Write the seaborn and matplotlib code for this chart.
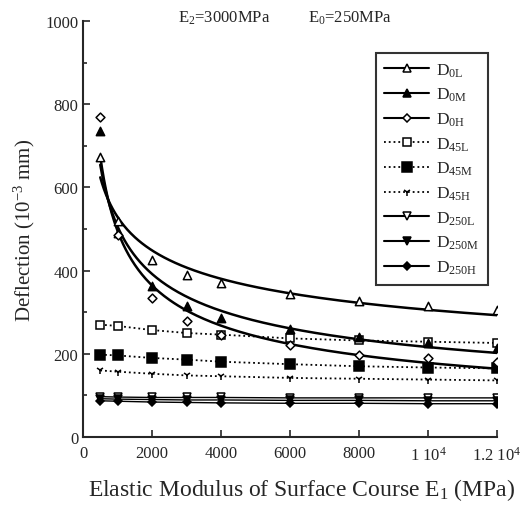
import numpy as np
import pandas as pd
import matplotlib
matplotlib.use("Agg")
import matplotlib.pyplot as plt
import seaborn as sns
from matplotlib.lines import Line2D
from matplotlib.ticker import MultipleLocator, FixedLocator

# ---- data ----
modulus = [500, 1000, 2000, 3000, 4000, 6000, 8000, 10000, 12000]
d0l = [672, 518, 425, 390, 370, 343, 326, 314, 305]
d0m = [735, 490, 362, 315, 287, 259, 240, 226, 215]
d0h = [770, 485, 334, 280, 245, 220, 198, 190, 180]
d45l = [270, 267, 257, 250, 246, 237, 232, 229, 226]
d45m = [198, 196, 190, 186, 181, 175, 170, 167, 165]
d45h = [160, 157, 152, 148, 146, 142, 140, 138, 136]
d250l = [97, 96, 95, 95, 95, 94, 94, 94, 94]
d250m = [92, 91, 90, 89, 89, 88, 88, 87, 87]
d250h = [87, 86, 84, 83, 82, 81, 81, 80, 80]

labels = ["D$_{\\mathrm{0L}}$", "D$_{\\mathrm{0M}}$", "D$_{\\mathrm{0H}}$",
          "D$_{\\mathrm{45L}}$", "D$_{\\mathrm{45M}}$", "D$_{\\mathrm{45H}}$",
          "D$_{\\mathrm{250L}}$", "D$_{\\mathrm{250M}}$", "D$_{\\mathrm{250H}}$"]
xticks = [0, 2000, 4000, 6000, 8000, 10000, 12000]
xtick_labels = ["0", "2000", "4000", "6000", "8000", "1 10$^{4}$", "1.2 10$^{4}$"]
yticks = [0, 200, 400, 600, 800, 1000]

sns.set_style("ticks")
plt.rcParams["font.family"] = ["Liberation Serif", "DejaVu Serif"]
plt.rcParams["mathtext.fontset"] = "custom"
plt.rcParams["mathtext.rm"] = "Liberation Serif"
plt.rcParams["mathtext.it"] = "Liberation Serif:italic"
plt.rcParams["mathtext.bf"] = "Liberation Serif:bold"

fig = plt.figure(figsize=(5.23, 5.10), dpi=100)
ax = fig.add_axes([0.1587, 0.1412, 0.7916, 0.8157])

series = [d0l, d0m, d0h, d45l, d45m, d45h, d250l, d250m, d250h]
markers = ["^", "^", "D", "s", "s", "1", "v", "v", "D"]
faces = ["white", "black", "white", "white", "black", "black", "white", "black", "black"]
msizes = [6, 6, 4.5, 6, 7, 6, 6, 6, 4.5]
styles = ["-", "-", "-", ":", ":", ":", "-", "-", "-"]

x_arr = np.array(modulus, dtype=float)
handles = []
for i, (vals, lab) in enumerate(zip(series, labels)):
    y_arr = np.array(vals, dtype=float)
    if i < 3:
        # power-law trend line fitted to the points (as in the original)
        b, a = np.polyfit(np.log(x_arr), np.log(y_arr), 1)
        xs = np.geomspace(x_arr.min(), x_arr.max(), 200)
        ys = np.exp(a + b * np.log(xs))
        sns.lineplot(x=xs, y=ys, ax=ax, color="black", lw=1.8, sort=False)
        sns.scatterplot(x=x_arr, y=y_arr, ax=ax, marker=markers[i], s=msizes[i] ** 2,
                        facecolor=faces[i], edgecolor="black", linewidth=1.1, zorder=5)
    else:
        lw = 1.3 if styles[i] == ":" else 1.0
        sns.lineplot(x=x_arr, y=y_arr, ax=ax, color="black", lw=lw, linestyle=styles[i],
                     marker=markers[i], markersize=msizes[i], markerfacecolor=faces[i],
                     markeredgecolor="black", markeredgewidth=1.1)
    handles.append(Line2D([], [], color="black", lw=1.5 if styles[i] == "-" else 1.3,
                          linestyle=styles[i], marker=markers[i], markersize=msizes[i],
                          markerfacecolor=faces[i], markeredgecolor="black",
                          markeredgewidth=1.1))

ax.set_xlim(0, 12000)
ax.set_ylim(0, 1000)
ax.xaxis.set_major_locator(FixedLocator(xticks))
ax.set_xticklabels(xtick_labels)
ax.yaxis.set_major_locator(FixedLocator(yticks))
ax.yaxis.set_minor_locator(MultipleLocator(100))
ax.tick_params(axis="both", which="both", direction="in", labelsize=12, width=1.2)
ax.tick_params(axis="both", which="major", length=5)
ax.tick_params(axis="y", which="minor", length=3)
ax.tick_params(axis="x", pad=6)
sns.despine(ax=ax)
for sp in ("left", "bottom"):
    ax.spines[sp].set_linewidth(1.5)

ax.set_xlabel("Elastic Modulus of Surface Course E$_{\\mathrm{1}}$ (MPa)", fontsize=17,
              labelpad=9, x=0.527)
ax.set_ylabel("Deflection (10$^{\\mathrm{-3}}$ mm)", fontsize=15, labelpad=6)

ax.text(0.23, 1.01, "E$_{\\mathrm{2}}$=3000MPa", transform=ax.transAxes, fontsize=12,
        ha="left", va="center")
ax.text(0.543, 1.01, "E$_{\\mathrm{0}}$=250MPa", transform=ax.transAxes, fontsize=12,
        ha="left", va="center")

leg = ax.legend(handles, labels, loc="upper right", bbox_to_anchor=(1.0, 0.945),
                fontsize=12.5, frameon=True, fancybox=False, handlelength=2.6,
                handletextpad=0.4, labelspacing=0.42, borderpad=0.5)
leg.get_frame().set_edgecolor("black")
leg.get_frame().set_linewidth(1.5)

fig.savefig("out.png", dpi=100)
